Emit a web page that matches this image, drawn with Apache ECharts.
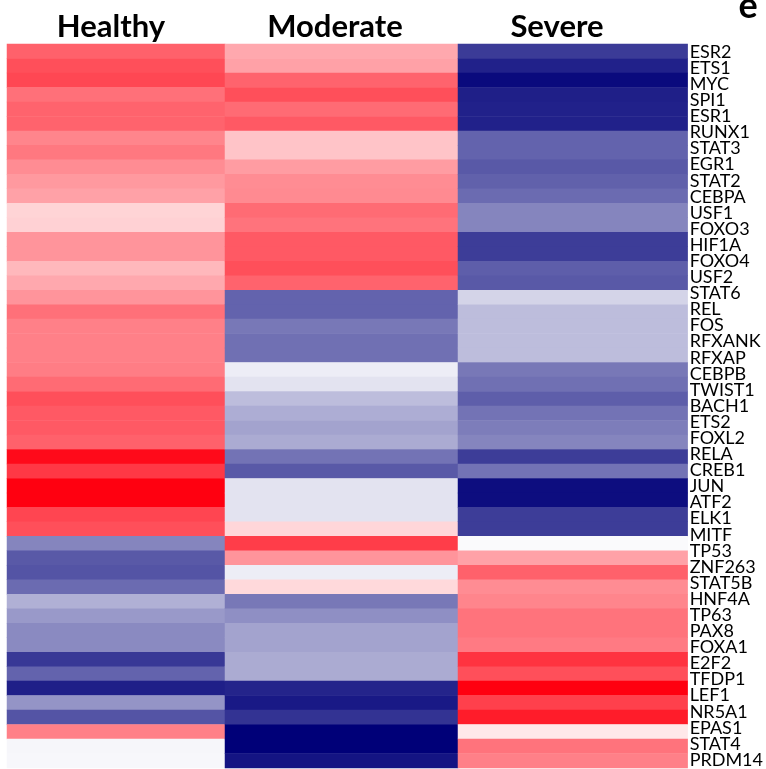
<!DOCTYPE html>
<html>
<head>
<meta charset="utf-8">
<script src="https://cdn.jsdelivr.net/npm/echarts@6/dist/echarts.min.js"></script>
<style>
html,body{margin:0;padding:0;background:#fff;}
#chart{width:766px;height:769px;}
</style>
</head>
<body>
<div id="chart"></div>
<script>
// Column (condition) names
const conditions = ['Healthy', 'Moderate', 'Severe'];

// Gene labels shown on the right side
const genes = ['ESR2','ETS1','MYC','SPI1','ESR1','RUNX1','STAT3','EGR1','STAT2','CEBPA',
  'USF1','FOXO3','HIF1A','FOXO4','USF2','STAT6','REL','FOS','RFXANK','RFXAP',
  'CEBPB','TWIST1','BACH1','ETS2','FOXL2','RELA','CREB1','JUN','ATF2','ELK1',
  'MITF','TP53','ZNF263','STAT5B','HNF4A','TP63','PAX8','FOXA1','E2F2','TFDP1',
  'LEF1','NR5A1','EPAS1','STAT4','PRDM14'];

// Heatmap rows (50 stripes, top to bottom), scaled values -1 (blue) .. 1 (red)
const healthy = [0.62,0.69,0.72,0.56,0.61,0.61,0.48,0.53,0.45,0.40,
  0.37,0.17,0.18,0.42,0.42,0.28,0.34,0.42,0.56,0.50,
  0.50,0.50,0.51,0.58,0.69,0.65,0.65,0.62,0.96,0.78,
  1.00,1.00,0.73,0.69,-0.48,-0.65,-0.67,-0.58,-0.31,-0.40,
  -0.46,-0.46,-0.78,-0.61,-0.88,-0.42,-0.67,0.50,-0.035,-0.03];

const moderate = [0.34,0.37,0.61,0.69,0.58,0.65,0.23,0.23,0.39,0.45,
  0.46,0.58,0.55,0.65,0.65,0.69,0.61,-0.61,-0.61,-0.53,
  -0.56,-0.56,-0.07,-0.11,-0.26,-0.32,-0.36,-0.33,-0.55,-0.65,
  -0.11,-0.11,-0.11,0.16,0.76,0.42,-0.07,0.15,-0.53,-0.44,
  -0.36,-0.36,-0.33,-0.33,-0.86,-0.90,-0.80,-1.00,-1.00,-0.92];

const severe = [-0.77,-0.87,-0.96,-0.88,-0.87,-0.87,-0.61,-0.61,-0.65,-0.62,
  -0.58,-0.48,-0.48,-0.76,-0.76,-0.63,-0.65,-0.17,-0.26,-0.26,
  -0.26,-0.26,-0.53,-0.56,-0.63,-0.55,-0.51,-0.48,-0.76,-0.55,
  -0.95,-0.95,-0.76,-0.76,-0.02,0.37,0.62,0.45,0.48,0.55,
  0.55,0.52,0.80,0.69,1.00,0.75,0.89,0.09,0.55,0.50];

const columns = [healthy, moderate, severe];
const rowIds = healthy.map((_, i) => 'r' + i);

// Layout (one grid per column, matching the reference's column widths)
const GRID_T = 44, GRID_H = 724;
const colLeft = [7, 225, 458];
const colWidth = [218, 233, 230];
const titleCenters = [111, 335, 557];

const chart = echarts.init(document.getElementById('chart'), null, {renderer: 'canvas'});

const grids = colLeft.map((l, i) => ({left: l, top: GRID_T, width: colWidth[i], height: GRID_H}));
const xAxes = conditions.map((c, i) => ({
  type: 'category', data: [c], gridIndex: i, position: 'top', show: false
}));
const yAxes = conditions.map((c, i) => ({
  type: 'category', data: rowIds, inverse: true, gridIndex: i, show: false
}));
yAxes.push({
  type: 'category', data: genes, inverse: true, gridIndex: 2, position: 'right',
  axisLine: {show: false}, axisTick: {show: false}, splitLine: {show: false},
  axisLabel: {interval: 0, margin: 2, fontFamily: 'Lato', fontSize: 18, color: '#000'}
});

const series = columns.map((col, ci) => ({
  type: 'heatmap', xAxisIndex: ci, yAxisIndex: ci,
  data: col.map((v, ri) => [0, ri, v]),
  itemStyle: {borderWidth: 0}, emphasis: {disabled: true}
}));

chart.setOption({
  animation: false,
  backgroundColor: '#ffffff',
  grid: grids,
  xAxis: xAxes,
  yAxis: yAxes,
  visualMap: {
    show: false, min: -1, max: 1, dimension: 2, seriesIndex: [0, 1, 2],
    inRange: {color: ['#000078', '#ffffff', '#ff0010']}
  },
  graphic: conditions.map((c, i) => ({
    type: 'text', x: titleCenters[i], y: 27,
    style: {text: c, fontFamily: 'Lato', fontWeight: 'bold', fontSize: 31, fill: '#000',
      textAlign: 'center', textVerticalAlign: 'middle'}
  })).concat([{
    type: 'text', x: 748, y: 6,
    style: {text: 'e', fontFamily: 'Lato', fontWeight: 'bold', fontSize: 36, fill: '#000',
      textAlign: 'center', textVerticalAlign: 'middle'}
  }]),
  series: series
});
</script>
</body>
</html>
